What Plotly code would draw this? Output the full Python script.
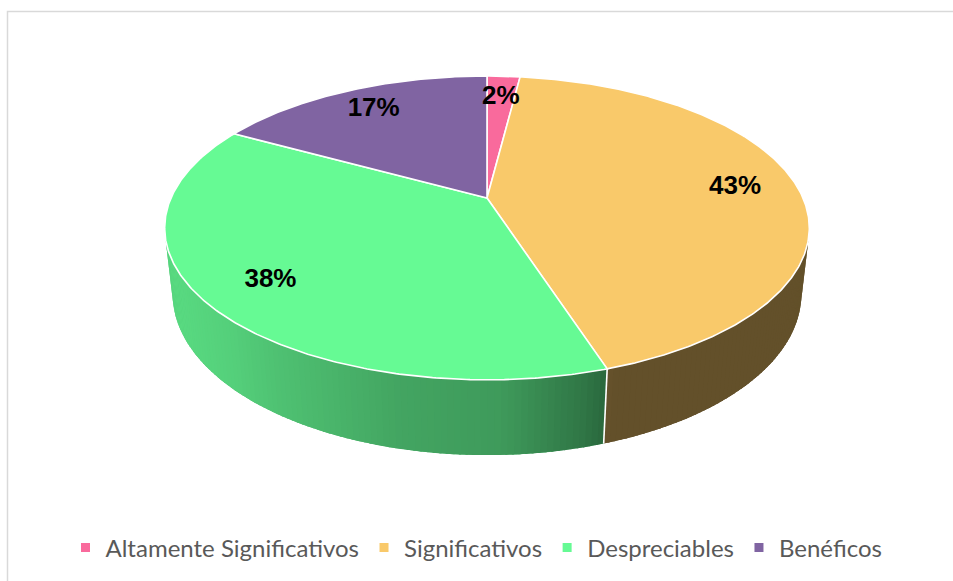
import math
import numpy as np
import plotly.graph_objects as go

# Share of impacts by category (percent)
categories = ["Altamente Significativos", "Significativos", "Despreciables", "Benéficos"]
values = [2, 43, 38, 17]
label_texts = [f"{v}%" for v in values]

# Slice colours (top face)
colors = ["#F96A9C", "#F9C96A", "#66FA94", "#8064A2"]

# --- 3D pie geometry (perspective view of a short cylinder) ---
CX, CY = 487.0, 198.0      # pixel position of the pie centre
FOCAL = 1422.0             # focal length in pixels
CAM_DIST = 4.5             # camera distance in pie radii
TILT_SIN, TILT_COS = 0.462, 0.887
THICK = 0.238              # pie thickness in pie radii
LABEL_RHO = 0.80


def project(theta_deg, rho=1.0, z=0.0):
    th = math.radians(theta_deg)
    x = rho * math.sin(th)
    y = rho * math.cos(th)
    yc = y * TILT_SIN + z * TILT_COS
    d = CAM_DIST + y * TILT_COS - z * TILT_SIN
    return CX + FOCAL * x / d, CY - FOCAL * yc / d


def shade(hex_color, f):
    h = hex_color.lstrip("#")
    r, g, b = (int(h[i:i + 2], 16) for i in (0, 2, 4))
    return "rgb({},{},{})".format(int(r * f), int(g * f), int(b * f))


def wall_poly(t0, t1, n):
    ts = np.linspace(t0, t1, n + 1)
    top = [project(t) for t in ts]
    bot = [project(t, z=-THICK) for t in ts[::-1]]
    pts = top + bot + [top[0]]
    return [p[0] for p in pts], [p[1] for p in pts]


# side-wall lighting as a function of horizontal screen position
SHADE_X = [165, 230, 270, 400, 500, 587, 613, 810]
SHADE_F = [0.88, 0.83, 0.78, 0.66, 0.62, 0.47, 0.40, 0.40]

# visible (front-facing) part of the cylinder wall
cos_lim = -1.0 / (CAM_DIST * TILT_COS)
vis_lo = math.degrees(math.acos(cos_lim))
vis_hi = 360.0 - vis_lo

total = float(sum(values))
starts, ends = [], []
acc = 0.0
for v in values:
    starts.append(acc / total * 360.0)
    acc += v
    ends.append(acc / total * 360.0)

fig = go.Figure()

# side walls: a base band per slice, then thin shaded strips on top
for a0, a1, col in zip(starts, ends, colors):
    lo, hi = max(a0, vis_lo), min(a1, vis_hi)
    if hi <= lo:
        continue
    mid_x = project((lo + hi) / 2.0)[0]
    base = shade(col, float(np.interp(mid_x, SHADE_X, SHADE_F)))
    bx, by = wall_poly(lo, hi, max(4, int((hi - lo) / 0.5)))
    fig.add_trace(go.Scatter(
        x=bx, y=by, mode="lines", fill="toself", fillcolor=base,
        line=dict(width=0), hoverinfo="skip", showlegend=False))
    n = max(2, int(math.ceil((hi - lo) / 1.0)))
    ts = np.linspace(lo, hi, n + 1)
    step = ts[1] - ts[0]
    for t0 in ts[:-1]:
        t1 = min(t0 + step * 1.35, hi)
        mx = (project(t0)[0] + project(t0 + step)[0]) / 2.0
        c = shade(col, float(np.interp(mx, SHADE_X, SHADE_F)))
        sx, sy = wall_poly(t0, t1, 1)
        fig.add_trace(go.Scatter(
            x=sx, y=sy, mode="lines", fill="toself", fillcolor=c,
            line=dict(width=0), hoverinfo="skip", showlegend=False))

# white seams between slices on the wall
for a in starts[1:]:
    if vis_lo < a < vis_hi:
        p = project(a)
        q = project(a, z=-THICK)
        fig.add_trace(go.Scatter(
            x=[p[0], q[0]], y=[p[1], q[1]], mode="lines",
            line=dict(color="white", width=1.6),
            hoverinfo="skip", showlegend=False))

# top faces
for a0, a1, col in zip(starts, ends, colors):
    n = max(4, int(math.ceil((a1 - a0) / 0.5)))
    ts = np.linspace(a0, a1, n + 1)
    pts = [project(t) for t in ts]
    xs = [CX] + [p[0] for p in pts] + [CX]
    ys = [CY] + [p[1] for p in pts] + [CY]
    fig.add_trace(go.Scatter(
        x=xs, y=ys, mode="lines", fill="toself", fillcolor=col,
        line=dict(color="white", width=1.6),
        hoverinfo="skip", showlegend=False))

# percentage labels
lx, ly = [], []
for a0, a1 in zip(starts, ends):
    p = project((a0 + a1) / 2.0, rho=LABEL_RHO)
    lx.append(p[0])
    ly.append(p[1])
fig.add_trace(go.Scatter(
    x=lx, y=ly, mode="text", text=label_texts,
    textfont=dict(family="Liberation Sans, Arial", size=26, color="black", weight="bold"),
    hoverinfo="skip", showlegend=False))

# legend entries
for name, col in zip(categories, colors):
    fig.add_trace(go.Scatter(
        x=[None], y=[None], mode="markers", name=name,
        marker=dict(symbol="square", size=9, color=col)))

fig.update_layout(
    width=953, height=581, autosize=False,
    margin=dict(l=0, r=0, t=0, b=0),
    paper_bgcolor="white", plot_bgcolor="white",
    xaxis=dict(range=[0, 953], visible=False, fixedrange=True),
    yaxis=dict(range=[581, 0], visible=False, fixedrange=True),
    showlegend=True,
    legend=dict(orientation="h", x=0.5, xanchor="center",
                y=1 - 548 / 581, yanchor="middle",
                font=dict(family="Lato", size=24, color="#595959"),
                itemwidth=30, tracegroupgap=0,
                bgcolor="rgba(0,0,0,0)"),
    shapes=[dict(type="rect", xref="x", yref="y", x0=7.5, y0=11.5, x1=975, y1=600,
                 line=dict(color="#D9D9D9", width=1.5), fillcolor="rgba(0,0,0,0)",
                 layer="below")],
)

fig.write_html("out.html")
